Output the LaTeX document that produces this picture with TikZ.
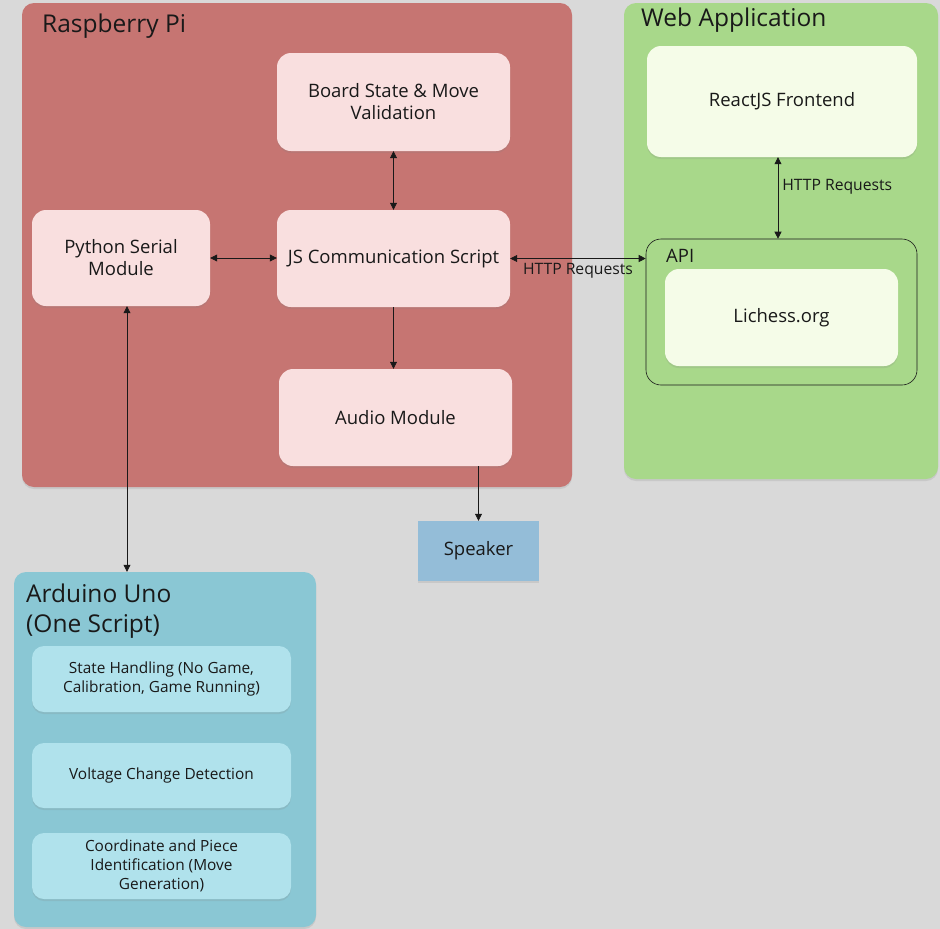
\documentclass[tikz,border=0pt]{standalone}
\usepackage{fontspec}
\setmainfont{Open Sans}
\usepackage{tikz}
\usetikzlibrary{arrows.meta, positioning, calc, shadows}
\definecolor{fondo}{RGB}{217,217,217}
\definecolor{rojito}{RGB}{198,117,114}
\definecolor{rosita}{RGB}{249,223,223}
\definecolor{verdecito}{RGB}{168,216,138}
\definecolor{cremita}{RGB}{245,252,232}
\definecolor{azulcito}{RGB}{138,199,212}
\definecolor{celestito}{RGB}{176,226,236}
\definecolor{bocina}{RGB}{148,189,216}
\definecolor{tinta}{RGB}{25,25,25}
\tikzset{>={Triangle[length=7pt,width=7pt]}}
\tikzset{
  sombra/.style={drop shadow={shadow xshift=0pt, shadow yshift=-2pt, opacity=0.18}},
  grupo/.style={rounded corners=12pt, sombra, inner sep=0pt},
  caja/.style={rounded corners=14pt, sombra, align=center, text=tinta, inner sep=0pt, font=\fontsize{18.5}{22}\selectfont},
  cajita/.style={caja, rounded corners=12pt, fill=celestito, minimum width=259pt, font=\fontsize{15.4}{19}\selectfont},
  titulo/.style={anchor=base west, text=tinta, inner sep=0pt, font=\fontsize{24.5}{30}\selectfont},
  etiqueta/.style={text=tinta, inner sep=0pt, font=\fontsize{15.7}{18}\selectfont},
  flecha/.style={<->, line width=0.6pt, tinta},
  ida/.style={->, line width=0.6pt, tinta}
}

\begin{document}
\begin{tikzpicture}[x=1pt, y=-1pt]
	\fill [fondo] (0,0) rectangle (940,929);
	\useasboundingbox (0,0) rectangle (940,929);

	% contenedores
	\node [grupo, fill=rojito, minimum width=550pt, minimum height=484pt] (rpi) at (297,245) {};
	\node [grupo, fill=verdecito, minimum width=314pt, minimum height=476pt] (web) at (781,241) {};
	\node [grupo, fill=azulcito, minimum width=302pt, minimum height=355pt] (uno) at (165,749.5) {};
	\node [titulo] at (42,32) {Raspberry Pi};
	\node [titulo] at (641,26) {Web Application};
	\node [titulo] at (26,602) {Arduino Uno};
	\node [titulo] at (26,632) {(One Script)};

	% raspberry pi
	\node [caja, fill=rosita, minimum width=233pt, minimum height=98pt] (board) at (393.5,102) {Board State \& Move\\Validation};
	\node [caja, fill=rosita, minimum width=178pt, minimum height=96pt] (python) at (121,258) {Python Serial\\Module};
	\node [caja, fill=rosita, minimum width=233pt, minimum height=97pt] (js) at (393.5,258.5) {JS Communication Script};
	\node [caja, fill=rosita, minimum width=233pt, minimum height=97pt] (audio) at (395.5,417.5) {Audio Module};
	\node [caja, fill=bocina, rounded corners=0pt, minimum width=121pt, minimum height=60pt] (speaker) at (478.5,551) {Speaker};

	% web application
	\node [caja, fill=cremita, minimum width=270pt, minimum height=111pt] (react) at (782,101.5) {ReactJS Frontend};
	\node [draw=tinta, line width=0.6pt, rounded corners=15pt, fill=verdecito, minimum width=271pt, minimum height=146pt] (api) at (781.5,312) {};
	\node [titulo, font=\fontsize{18.5}{20}\selectfont] at (666,262) {API};
	\node [caja, fill=cremita, minimum width=233pt, minimum height=97pt] (lichess) at (781.5,317.5) {Lichess.org};

	% arduino
	\node [cajita, minimum height=66pt] (state) at (161.5,679) {State Handling (No Game,\\Calibration, Game Running)};
	\node [cajita, minimum height=65pt] (voltage) at (161.5,775.5) {Voltage Change Detection};
	\node [cajita, minimum height=66pt] (coord) at (161.5,866) {Coordinate and Piece\\Identification (Move\\Generation)};

	% conexiones
	\draw [flecha] (board.south) -- (board.south |- js.north);
	\draw [flecha] (python.east) -- (python.east -| js.west);
	\draw [flecha] (js.east) -- (js.east -| api.west) node [etiqueta, midway, below, yshift=-4pt] {HTTP Requests};
	\draw [flecha] ([xshift=-4pt]react.south) -- ([xshift=-4pt]react.south |- api.north) node [etiqueta, pos=0.36, right, xshift=4pt] {HTTP Requests};
	\draw [ida] (js.south) -- (js.south |- audio.north);
	\draw [ida] (speaker.north |- audio.south) -- (speaker.north);
	\draw [flecha] ([xshift=6pt]python.south) -- ([xshift=6pt]python.south |- uno.north);
\end{tikzpicture}
\end{document}
